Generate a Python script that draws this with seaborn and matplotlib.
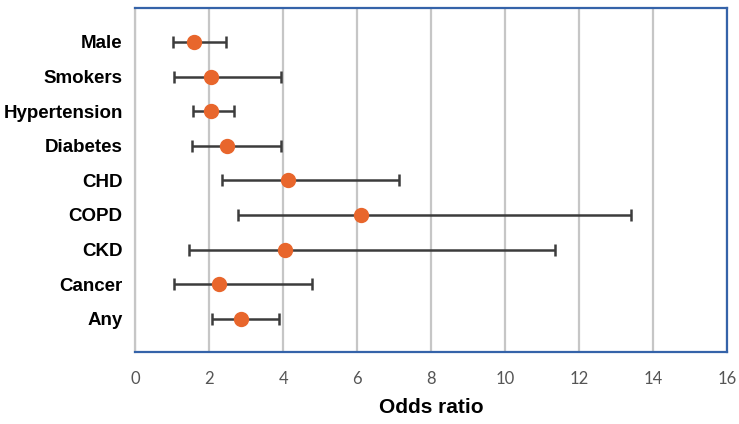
import numpy as np
import pandas as pd
import matplotlib
matplotlib.use("Agg")
import matplotlib.pyplot as plt
import seaborn as sns

# Odds ratios with 95% CI
factors = ["Male", "Smokers", "Hypertension", "Diabetes", "CHD",
           "COPD", "CKD", "Cancer", "Any"]
odds_ratio = [1.59, 2.05, 2.05, 2.47, 4.12, 6.09, 4.05, 2.26, 2.86]
ci_lower = [1.03, 1.06, 1.56, 1.53, 2.34, 2.77, 1.45, 1.06, 2.08]
ci_upper = [2.44, 3.95, 2.68, 3.95, 7.14, 13.41, 11.35, 4.79, 3.89]
x_ticks = [0, 2, 4, 6, 8, 10, 12, 14, 16]

df = pd.DataFrame({"factor": factors, "or": odds_ratio,
                   "lo": ci_lower, "hi": ci_upper})

sns.set_theme(style="white")
plt.rcParams["font.family"] = ["Liberation Sans", "DejaVu Sans"]

fig, ax = plt.subplots(figsize=(7.39, 4.24), dpi=100)
fig.subplots_adjust(left=0.183, right=0.984, top=0.981, bottom=0.170)

# confidence intervals
ypos = np.arange(len(df))
ax.errorbar(df["or"], ypos,
            xerr=[df["or"] - df["lo"], df["hi"] - df["or"]],
            fmt="none", ecolor="#3c3c3c", elinewidth=1.8,
            capsize=4, capthick=1.8, zorder=2)

# point estimates
sns.pointplot(data=df, x="or", y="factor", order=factors, orient="h",
              linestyle="none", markers="o", markersize=9,
              color="#E8662C", errorbar=None, ax=ax, zorder=3)

ax.set_xlim(0, 16)
ax.set_ylim(len(factors) - 1 + 0.96, -0.98)
ax.set_xticks(x_ticks)
ax.set_xticklabels([str(t) for t in x_ticks], family=["Lato", "DejaVu Sans"],
                   fontsize=12, color="#555555")
ax.tick_params(axis="x", length=0, pad=14)
ax.tick_params(axis="y", length=0, pad=9)
for lab in ax.get_yticklabels():
    lab.set_fontweight("bold")
    lab.set_fontsize(13.5)
    lab.set_color("black")

ax.grid(axis="x", color="#c6c6c6", linewidth=1.6)
ax.set_axisbelow(True)
for side in ["top", "right", "bottom"]:
    ax.spines[side].set_color("#3563A9")
    ax.spines[side].set_linewidth(1.6)
ax.spines["left"].set_color("#c6c6c6")
ax.spines["left"].set_linewidth(1.6)

ax.set_ylabel("")
ax.set_xlabel("Odds ratio", fontsize=15, fontweight="bold", color="black",
              labelpad=8)

plt.savefig("out.png", dpi=100)
